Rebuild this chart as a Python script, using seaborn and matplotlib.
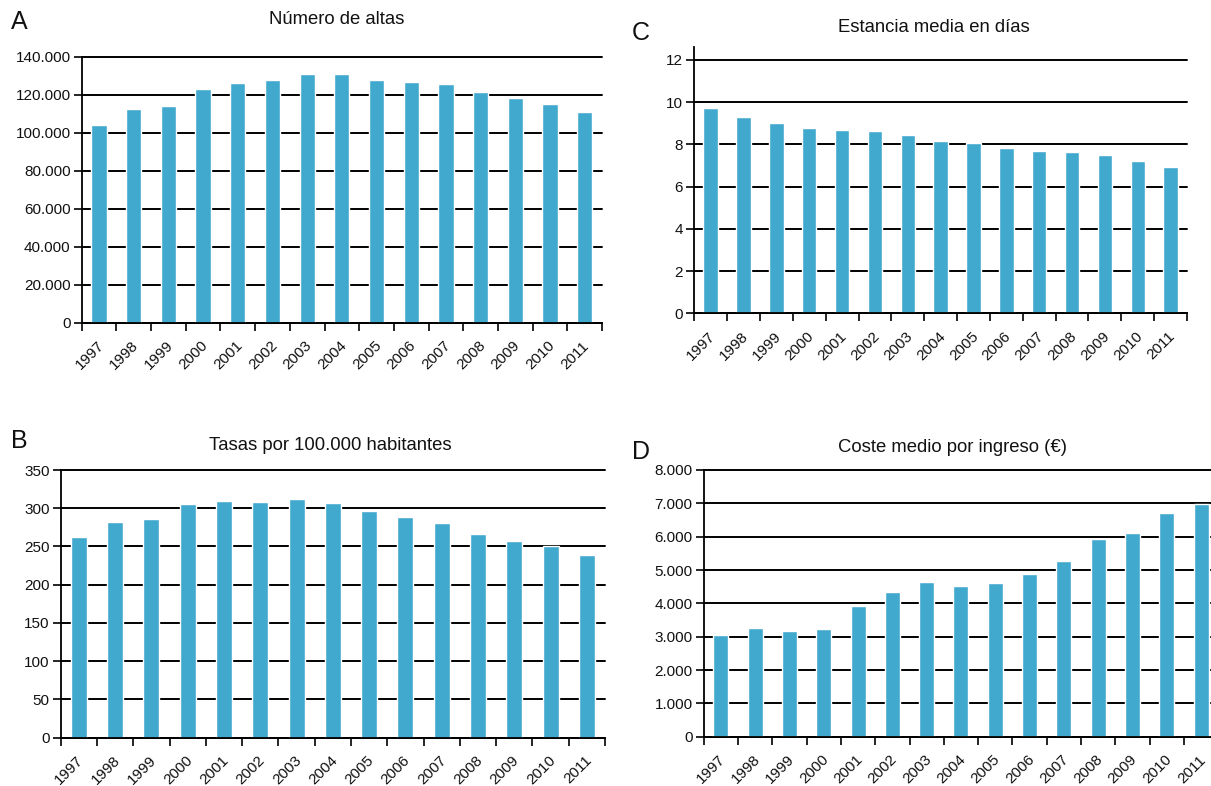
import matplotlib
matplotlib.use("Agg")
import matplotlib.pyplot as plt
import matplotlib.transforms as mtransforms
import seaborn as sns
import pandas as pd
from matplotlib.ticker import FuncFormatter, FixedLocator

years = [str(y) for y in range(1997, 2012)]
altas = [104000, 112500, 114000, 123000, 126000, 127700, 130900, 130800,
         127700, 126700, 125600, 121400, 118200, 115100, 110900]
estancia = [9.71, 9.30, 9.02, 8.78, 8.69, 8.64, 8.45, 8.17, 8.06, 7.84,
            7.69, 7.65, 7.51, 7.22, 6.94]
tasas = [262, 282, 286, 305.5, 309.5, 308, 312, 307, 296, 288.5, 280.5,
         266, 257, 250, 238.5]
coste = [3062, 3272, 3182, 3242, 3930, 4349, 4648, 4529, 4618, 4888,
         5277, 5935, 6115, 6713, 6983]

titles = ["Número de altas", "Estancia media en días",
          "Tasas por 100.000 habitantes", "Coste medio por ingreso (€)"]
letters = ["A", "C", "B", "D"]

sns.set_theme(style="white")
plt.rcParams['font.family'] = ['Liberation Sans', 'DejaVu Sans']

W, H = 1211, 786
fig = plt.figure(figsize=(W / 100, H / 100), dpi=100)

BAR = "#42A9CE"

def thousands(v, pos):
    return f"{int(round(v)):,}".replace(",", ".")

panels = [
    (altas, (81.7, 602, 322.7, 56.7), 140000, list(range(0, 140001, 20000)), thousands),
    (estancia, (694.3, 1187, 313.3, 47.3), 12.6, list(range(0, 13, 2)), lambda v, p: f"{int(v)}"),
    (tasas, (60.7, 605, 737.5, 470), 350, list(range(0, 351, 50)), lambda v, p: f"{int(v)}"),
    (coste, (703.7, 1218.2, 736.7, 470), 8000, list(range(0, 8001, 1000)), thousands),
]

title_pos = [(337, 20), (934, 28), (330, 445), (952, 448)]
letter_pos = [(19, 22), (641, 33), (19, 441), (641, 452)]

shift = mtransforms.ScaledTranslation(2.5 / 100, 0, fig.dpi_scale_trans)

for i, (vals, (l, r, b, t), ytop, yt, fmt) in enumerate(panels):
    ax = fig.add_axes([l / W, 1 - b / H, (r - l) / W, (b - t) / H])
    df = pd.DataFrame({"year": years, "value": vals})
    sns.barplot(data=df, x="year", y="value", color=BAR, saturation=1,
                width=0.44, ax=ax, zorder=3)
    ax.set_xlim(-0.5, len(years) - 0.5)
    ax.set_ylim(0, ytop)
    ax.set_xlabel("")
    ax.set_ylabel("")
    ax.set_yticks(yt)
    ax.yaxis.set_major_formatter(FuncFormatter(fmt))
    ax.set_axisbelow(True)
    ax.grid(axis="y", color="black", linewidth=1.4)
    ax.grid(axis="x", visible=False)
    for gl in ax.get_ygridlines():
        gl.set_clip_on(False)
    for s in ["top", "right"]:
        ax.spines[s].set_visible(False)
    for s in ["left", "bottom"]:
        ax.spines[s].set_color("black")
        ax.spines[s].set_linewidth(1.3)
        ax.spines[s].set_zorder(4)
    ax.tick_params(axis="y", which="major", left=True, length=6, width=1.2,
                   color="black", labelsize=11, pad=2)
    ax.set_xticks(range(len(years)))
    ax.set_xticklabels(years, rotation=45, ha="right", va="center",
                       rotation_mode="anchor")
    ax.tick_params(axis="x", which="major", bottom=True, length=0,
                   labelsize=11, pad=15)
    ax.xaxis.set_minor_locator(FixedLocator([k - 0.5 for k in range(len(years) + 1)]))
    ax.tick_params(axis="x", which="minor", bottom=True, length=6, width=1.2,
                   color="black")
    for lab in ax.get_xticklabels():
        lab.set_color("#111111")
        lab.set_transform(lab.get_transform() + shift)
    for lab in ax.get_yticklabels():
        lab.set_color("#111111")

    tx, ty = title_pos[i]
    fig.text(tx / W, 1 - ty / H, titles[i], ha="center", va="center",
             fontsize=13.3, color="#111111")
    lx, ly = letter_pos[i]
    fig.text(lx / W, 1 - ly / H, letters[i], ha="center", va="center",
             fontsize=18, color="#111111")

fig.savefig("out.png", dpi=100)
